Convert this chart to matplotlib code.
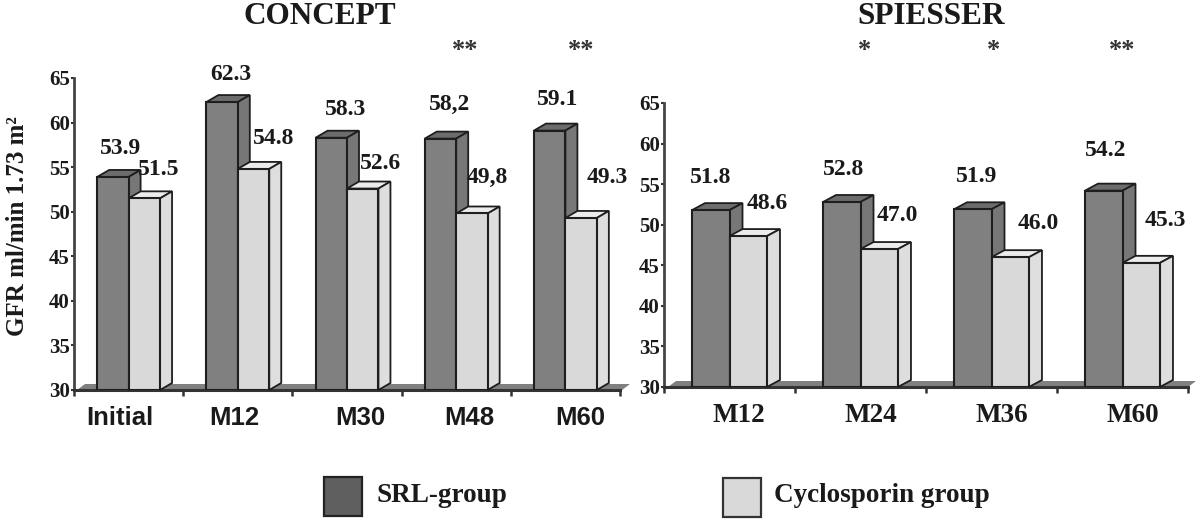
import matplotlib
matplotlib.use("Agg")
import matplotlib.pyplot as plt
from matplotlib.patches import Polygon, Rectangle

SERIF = "Liberation Serif"
SANS = "Liberation Sans"
W, H = 1200, 522

series_names = ["SRL-group", "Cyclosporin group"]
y_ticks = [30, 35, 40, 45, 50, 55, 60, 65]

concept_cats = ["Initial", "M12", "M30", "M48", "M60"]
concept_srl = [53.9, 62.3, 58.3, 58.2, 59.1]
concept_csa = [51.5, 54.8, 52.6, 49.8, 49.3]
concept_srl_txt = ["53.9", "62.3", "58.3", "58,2", "59.1"]
concept_csa_txt = ["51.5", "54.8", "52.6", "49,8", "49.3"]
concept_stars = ["", "", "", "**", "**"]

spiesser_cats = ["M12", "M24", "M36", "M60"]
spiesser_srl = [51.8, 52.8, 51.9, 54.2]
spiesser_csa = [48.6, 47.0, 46.0, 45.3]
spiesser_srl_txt = ["51.8", "52.8", "51.9", "54.2"]
spiesser_csa_txt = ["48.6", "47.0", "46.0", "45.3"]
spiesser_stars = ["", "*", "*", "**"]

# layout only (pixel offsets)
concept_layout = dict(
    box=(74, 620, 390, 78), width=0.288, depth=(12, 7),
    srl_off=[(8, 28), (9, 28), (14, 28), (9, 34), (8, 31)],
    csa_off=[(14, 29), (20, 30), (18, 25), (15, 36), (26, 40)],
    cat_off=[-9, -3, 13, 13, 15], star_off=[0, 0, 0, 9, 16],
    cat_font=(SANS, 18.5), star_y=27, floor=(3, 2),
)
spiesser_layout = dict(
    box=(664, 1188, 387, 103), width=0.286, depth=(13, 7),
    srl_off=[(0, 33), (2, 32), (4, 33), (2, 40)],
    csa_off=[(19, 33), (18, 34), (28, 34), (24, 42)],
    cat_off=[9, 10, 10, 10], star_off=[0, 4, 2, 0],
    cat_font=(SERIF, 19.5), star_y=52, floor=(4, 0),
)

DARK = ("#808080", "#6c6c6c", "#777777")
LIGHT = ("#d9d9d9", "#ececec", "#dedede")
EDGE = "#1e1e1e"

fig = plt.figure(figsize=(W / 100, H / 100), dpi=100, facecolor="white")


def chart(cats, srl, csa, srl_txt, csa_txt, stars, title, title_x, L):
    x0, x1, yb, yt = L["box"]
    ax = fig.add_axes([x0 / W, 1 - yb / H, (x1 - x0) / W, (yb - yt) / H])
    ax.set_xlim(-0.5, len(cats) - 0.5)
    ax.set_ylim(30, 65)
    ax.patch.set_alpha(0)
    for s in ("top", "right"):
        ax.spines[s].set_visible(False)
    ax.spines["left"].set_color("#444444")
    ax.spines["left"].set_linewidth(2)
    ax.spines["bottom"].set_color("#333333")
    ax.spines["bottom"].set_linewidth(2.2)

    ux = (x1 - x0) / len(cats)
    uy = (yb - yt) / 35
    dx, dy = L["depth"][0] / ux, L["depth"][1] / uy
    w = L["width"]
    n = len(cats)

    # floor of the 3D box
    fa, fb = L["floor"]
    ax.add_patch(Polygon(
        [(-0.5 + fa / ux, 30), (-0.5 + (fa + 8) / ux, 30 + 6 / uy),
         (n - 0.5 + (fb + 8) / ux, 30 + 6 / uy), (n - 0.5 + fb / ux, 30)],
        closed=True, fc="#808080", ec="none", clip_on=False, zorder=1))

    z = 3
    for i in range(n):
        for vals, pos, cols in ((srl, i - w / 2, DARK), (csa, i + w / 2, LIGHT)):
            v = vals[i]
            ax.bar(pos, v - 30, w, bottom=30, color=cols[0], edgecolor=EDGE,
                   linewidth=1.5, zorder=z + 2)
            l, r = pos - w / 2, pos + w / 2
            ax.add_patch(Polygon([(l, v), (l + dx, v + dy), (r + dx, v + dy), (r, v)],
                                 closed=True, fc=cols[1], ec=EDGE, lw=1.3, zorder=z + 1,
                                 clip_on=False))
            ax.add_patch(Polygon([(r, 30), (r + dx, 30 + dy), (r + dx, v + dy), (r, v)],
                                 closed=True, fc=cols[2], ec=EDGE, lw=1.3, zorder=z + 1,
                                 clip_on=False))
            z += 3

    for i in range(n):
        ax.annotate(srl_txt[i], xy=(i - w / 2, srl[i]), xytext=L["srl_off"][i],
                    textcoords="offset pixels", ha="center", va="center",
                    fontfamily=SERIF, fontweight="bold", fontsize=17,
                    color="#1a1a1a", zorder=100)
        ax.annotate(csa_txt[i], xy=(i + w / 2, csa[i]), xytext=L["csa_off"][i],
                    textcoords="offset pixels", ha="center", va="center",
                    fontfamily=SERIF, fontweight="bold", fontsize=17,
                    color="#1a1a1a", zorder=100)
        ax.annotate(cats[i], xy=(i, 30), xytext=(L["cat_off"][i], -28),
                    textcoords="offset pixels", ha="center", va="center",
                    fontfamily=L["cat_font"][0], fontweight="bold",
                    fontsize=L["cat_font"][1], color="#1a1a1a", annotation_clip=False)
        if stars[i]:
            ax.annotate(stars[i], xy=(i, 65), xytext=(L["star_off"][i], L["star_y"]),
                        textcoords="offset pixels", ha="center", va="center",
                        fontfamily=SERIF, fontweight="bold", fontsize=19,
                        color="#333333", annotation_clip=False)

    ax.set_xticks([k - 0.5 for k in range(n + 1)])
    ax.set_xticklabels([])
    ax.tick_params(axis="x", length=4, width=1.8, color="#333333")
    ax.set_yticks(y_ticks)
    ax.set_yticklabels([str(t) for t in y_ticks], fontfamily=SERIF,
                       fontweight="bold", fontsize=15, color="#1a1a1a")
    ax.tick_params(axis="y", length=2, width=1.5, pad=1, color="#333333")
    fig.text(title_x / W, 1 - 16 / H, title, ha="center", va="center",
             fontfamily=SERIF, fontweight="bold", fontsize=22.5, color="#1a1a1a")
    return ax


chart(concept_cats, concept_srl, concept_csa, concept_srl_txt, concept_csa_txt,
      concept_stars, "CONCEPT", 320, concept_layout)
chart(spiesser_cats, spiesser_srl, spiesser_csa, spiesser_srl_txt, spiesser_csa_txt,
      spiesser_stars, "SPIESSER", 931, spiesser_layout)

fig.text(18 / W, 1 - 226 / H, "GFR ml/min 1.73 m²", rotation=90, ha="center", va="center",
         fontfamily=SERIF, fontweight="bold", fontsize=18, color="#1a1a1a")

# legend
for (sx, sy, col, ec, name, tx) in (
    (324, 477, "#5f5f5f", "#222222", series_names[0], 377),
    (723, 478, "#d9d9d9", "#333333", series_names[1], 774),
):
    fig.add_artist(Rectangle((sx / W, 1 - (sy + 39) / H), 38 / W, 39 / H,
                             transform=fig.transFigure, fc=col, ec=ec, lw=1.6))
    fig.text(tx / W, 1 - 495 / H, name, ha="left", va="center", fontfamily=SERIF,
             fontweight="bold", fontsize=19.5, color="#1a1a1a")

fig.savefig("out.png", dpi=100, facecolor="white")
